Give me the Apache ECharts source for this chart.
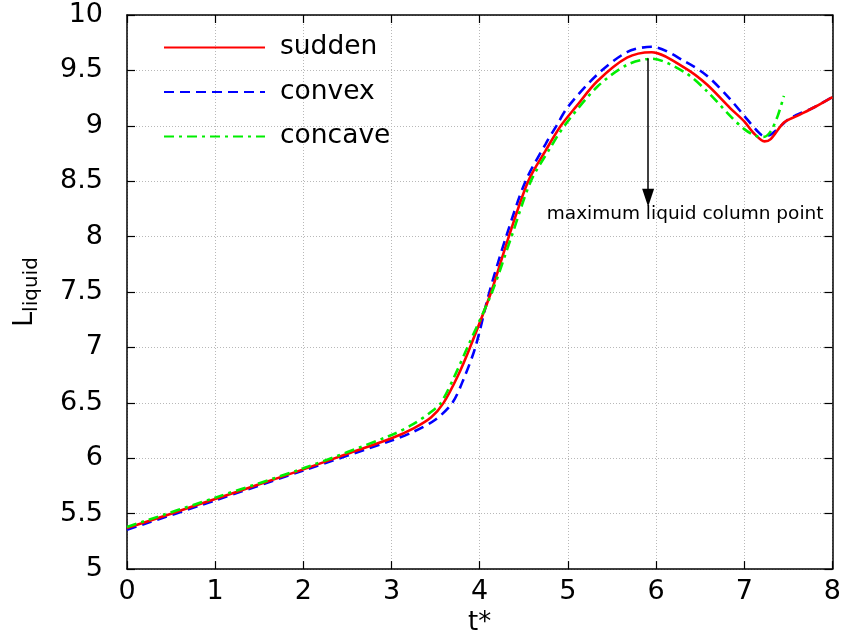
<!DOCTYPE html>
<html>
<head>
<meta charset="utf-8">
<script src="https://cdn.jsdelivr.net/npm/echarts@6/dist/echarts.min.js"></script>
<style>
  html, body { margin: 0; padding: 0; background: #fff; overflow: hidden; }
  #container { width: 844px; height: 641px; }
</style>
</head>
<body>
<div id="container"></div>
<script>
var suddenT = [0, 0.5, 1, 1.5, 2, 2.5, 3, 3.25, 3.45, 3.59, 3.75, 3.89, 4.13, 4.33, 4.55, 4.75, 4.92, 5.1, 5.33, 5.67, 5.95, 6.33, 6.58, 6.84, 7.0, 7.1, 7.23, 7.3, 7.45, 7.6, 7.8, 8];
var suddenL = [5.37, 5.50, 5.633, 5.765, 5.90, 6.04, 6.18, 6.27, 6.37, 6.5, 6.74, 7.0, 7.5, 8.0, 8.5, 8.78, 9.0, 9.18, 9.40, 9.615, 9.664, 9.52, 9.37, 9.16, 9.04, 8.94, 8.86, 8.88, 9.03, 9.09, 9.17, 9.26];

var convexT = [0, 1, 2, 3, 3.25, 3.5, 3.69, 3.82, 3.95, 4.11, 4.30, 4.52, 4.75, 4.87, 5.0, 5.33, 5.67, 5.95, 6.33, 6.58, 6.84, 7.0, 7.14, 7.22, 7.3, 7.5, 7.6, 7.8, 8];
var convexL = [5.355, 5.62, 5.89, 6.16, 6.24, 6.35, 6.5, 6.72, 7.0, 7.5, 8.0, 8.5, 8.84, 9.0, 9.17, 9.46, 9.665, 9.714, 9.58, 9.45, 9.24, 9.09, 8.96, 8.91, 8.92, 9.06, 9.10, 9.17, 9.26];

var concaveT = [0, 1, 2, 3, 3.25, 3.45, 3.56, 3.72, 3.86, 4.14, 4.36, 4.58, 4.8, 4.96, 5.33, 5.67, 5.95, 6.33, 6.58, 6.84, 7.0, 7.13, 7.22, 7.3, 7.38, 7.45];
var concaveL = [5.38, 5.645, 5.91, 6.21, 6.31, 6.42, 6.5, 6.75, 7.0, 7.5, 8.0, 8.5, 8.8, 9.0, 9.35, 9.55, 9.605, 9.48, 9.31, 9.09, 8.97, 8.91, 8.90, 8.95, 9.09, 9.27];

var peakT = 5.91;
var arrowFrom = 9.61, arrowTo = 8.35;
var noteT = 6.33, noteL = 8.205;
var noteText = 'maximum liquid column point';

function pairs(xs, ys) {
  return xs.map(function (x, i) { return [x, ys[i]]; });
}

var dom = document.getElementById('container');
var myChart = echarts.init(dom, null, { renderer: 'canvas' });

var font = 'DejaVu Sans';
var gridLine = { show: true, lineStyle: { color: '#b8b8b8', type: [1, 2], width: 1 } };
var axLine = { show: true, onZero: false, lineStyle: { color: '#000', width: 1.5 } };
var ticks = { show: true, inside: true, length: 8, lineStyle: { color: '#000', width: 1.2 } };

var option = {
  animation: false,
  textStyle: { fontFamily: font },
  grid: { left: 127, right: 8, top: 15, bottom: 66, containLabel: false },
  legend: {
    left: 158, top: 29, orient: 'vertical',
    itemWidth: 101, itemHeight: 14, itemGap: 17.5,
    itemStyle: { opacity: 0 },
    textStyle: { fontFamily: font, fontSize: 26.5, color: '#000', padding: [0, 0, 0, 10] },
    data: ['sudden', 'convex', 'concave']
  },
  xAxis: [
    {
      type: 'value', min: 0, max: 8, interval: 1,
      name: 't*', nameLocation: 'middle', nameGap: 39,
      nameTextStyle: { fontSize: 26, color: '#000', fontFamily: font },
      axisLine: axLine, axisTick: ticks, splitLine: gridLine,
      axisLabel: { fontSize: 27, color: '#000', margin: 9, fontFamily: font }
    },
    {
      type: 'value', min: 0, max: 8, interval: 1, position: 'top',
      axisLine: axLine, axisTick: ticks, splitLine: { show: false }, axisLabel: { show: false }
    }
  ],
  yAxis: [
    {
      type: 'value', min: 5, max: 10, interval: 0.5,
      name: '{a|L}{b|liquid}', nameLocation: 'middle', nameGap: 85, nameRotate: 90,
      nameTextStyle: {
        color: '#000',
        rich: {
          a: { fontSize: 27, fontFamily: font, color: '#000' },
          b: { fontSize: 20, fontFamily: font, color: '#000', padding: [14, 0, 0, 0] }
        }
      },
      axisLine: axLine, axisTick: ticks, splitLine: gridLine,
      axisLabel: { fontSize: 27, color: '#000', margin: 24, fontFamily: font }
    },
    {
      type: 'value', min: 5, max: 10, interval: 0.5, position: 'right',
      axisLine: axLine, axisTick: ticks, splitLine: { show: false }, axisLabel: { show: false }
    }
  ],
  series: [
    {
      name: 'sudden', type: 'line', smooth: 0.3, showSymbol: false, symbol: 'none',
      data: pairs(suddenT, suddenL), z: 3,
      lineStyle: { color: '#ff0000', width: 2.6 }, itemStyle: { color: '#ff0000' },
      markLine: {
        silent: true, symbol: ['none', 'triangle'], symbolSize: [12, 18],
        lineStyle: { color: '#000', width: 1.5, type: 'solid' },
        label: { show: false },
        data: [[{ coord: [peakT, arrowFrom] }, { coord: [peakT, arrowTo] }]]
      },
      markPoint: {
        silent: true, symbol: 'circle', symbolSize: 0,
        label: {
          show: true, position: 'inside', formatter: noteText,
          fontSize: 18.5, color: '#000', fontFamily: font
        },
        data: [{ coord: [noteT, noteL] }]
      }
    },
    {
      name: 'convex', type: 'line', smooth: 0.3, showSymbol: false, symbol: 'none',
      data: pairs(convexT, convexL), z: 2,
      lineStyle: { color: '#0000ff', width: 2.6, type: [10, 6] }, itemStyle: { color: '#0000ff' }
    },
    {
      name: 'concave', type: 'line', smooth: 0.3, showSymbol: false, symbol: 'none',
      data: pairs(concaveT, concaveL), z: 4,
      lineStyle: { color: '#00ee00', width: 2.6, type: [10, 5, 3, 5] }, itemStyle: { color: '#00ee00' }
    }
  ]
};

myChart.setOption(option);
window.addEventListener('resize', myChart.resize);
</script>
</body>
</html>
